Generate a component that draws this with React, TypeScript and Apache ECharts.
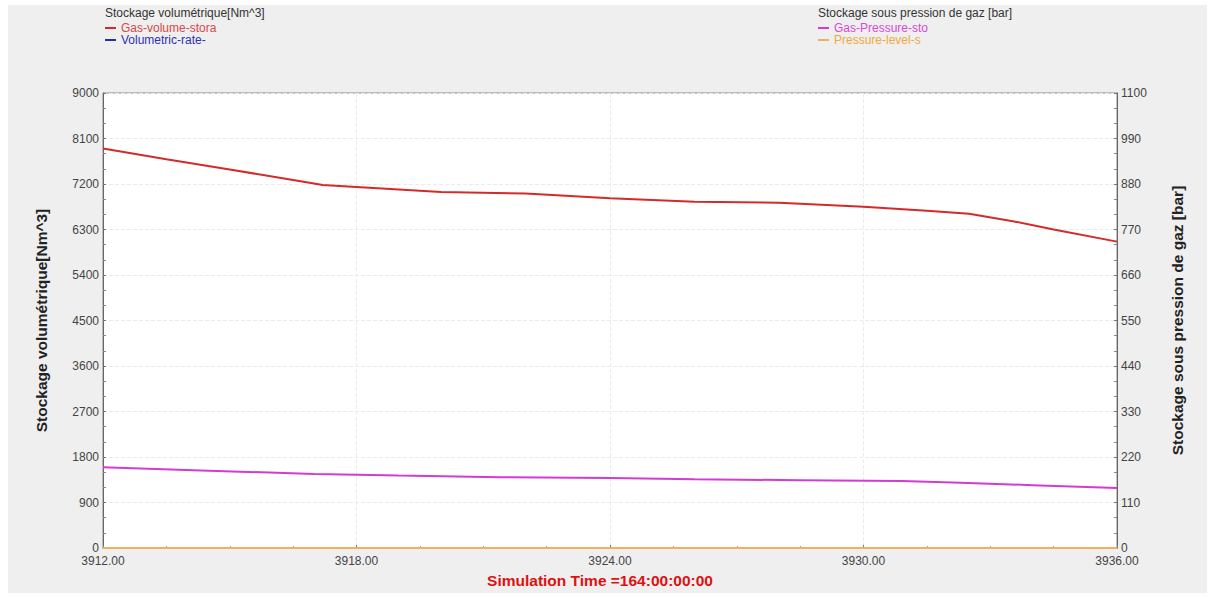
import React, { useEffect, useRef } from "react";
import * as echarts from "echarts";

const xTicksMin = 3912;
const xTicksMax = 3936;
const xInterval = 6;

const volTime = [3912, 3913.5, 3915, 3916.5, 3917.2, 3918, 3920, 3922, 3924, 3926, 3928, 3930, 3931.5, 3932.5, 3933.5, 3934.5, 3936];
const gasVolume = [7900, 7690, 7485, 7280, 7180, 7140, 7040, 7010, 6920, 6850, 6830, 6750, 6670, 6610, 6470, 6300, 6060];

const rateTime = [3912, 3936];
const volumetricRate = [0, 0];

const pressTime = [3912, 3914.5, 3917, 3919, 3921.4, 3924, 3926, 3928.5, 3930.9, 3932.3, 3934, 3936];
const gasPressure = [195, 187, 179, 175, 171, 169, 166, 164, 162, 158, 152, 145];

const levelTime = [3912, 3936];
const pressureLevel = [0, 0];

const leftTitle = "Stockage volumétrique[Nm^3]";
const rightTitle = "Stockage sous pression de gaz [bar]";
const xName = "Simulation Time =164:00:00:00";

const FONT = "Liberation Sans, Arial, sans-serif";

function zip(xs: number[], ys: number[]) {
  return xs.map((x, i) => [x, ys[i]]);
}

export default function App() {
  const ref = useRef<HTMLDivElement>(null);
  useEffect(() => {
    if (!ref.current) return;
    const chart = echarts.init(ref.current, undefined, { renderer: "svg" });
    const labelStyle = { color: "#444", fontSize: 12, fontFamily: FONT };
    const legendText = { fontSize: 12, fontFamily: FONT };
    const titleStyle = { fontSize: 12, fontWeight: "normal", color: "#333", fontFamily: FONT };
    chart.setOption({
      animation: false,
      backgroundColor: "#efefef",
      title: [
        { text: leftTitle, left: 97, top: 2, padding: 0, textStyle: titleStyle },
        { text: rightTitle, left: 810, top: 2, padding: 0, textStyle: titleStyle },
      ],
      legend: [
        {
          left: 97, top: 17, orient: "vertical", padding: 0, itemGap: 0, itemWidth: 11, itemHeight: 2, icon: "rect",
          textStyle: legendText,
          data: [
            { name: "Gas-volume-stora", textStyle: { color: "#d84848" } },
            { name: "Volumetric-rate-", textStyle: { color: "#3030b0" } },
          ],
        },
        {
          left: 810, top: 17, orient: "vertical", padding: 0, itemGap: 0, itemWidth: 11, itemHeight: 2, icon: "rect",
          textStyle: legendText,
          data: [
            { name: "Gas-Pressure-sto", textStyle: { color: "#d84ad8" } },
            { name: "Pressure-level-s", textStyle: { color: "#f0a840" } },
          ],
        },
      ],
      grid: { left: 95, right: 90, top: 88, bottom: 44, show: true, backgroundColor: "#ffffff", borderColor: "#888", borderWidth: 1 },
      xAxis: {
        type: "value", min: xTicksMin, max: xTicksMax, interval: xInterval,
        name: xName, nameLocation: "middle", nameGap: 24,
        nameTextStyle: { color: "#e01010", fontWeight: "bold", fontSize: 15.5, fontFamily: FONT, padding: [0, 20, 0, 0] },
        axisLine: { show: true, lineStyle: { color: "#777" } },
        axisTick: { show: true, inside: true, length: 3, lineStyle: { color: "#777" } },
        minorTick: { show: true, splitNumber: 4, length: 2, lineStyle: { color: "#999" } },
        axisLabel: { ...labelStyle, margin: 7, formatter: (v: number) => v.toFixed(2) },
        splitLine: { show: true, lineStyle: { color: "#ebebeb", type: "dashed" } },
      },
      yAxis: [
        {
          type: "value", min: 0, max: 9000, interval: 900, position: "left",
          name: leftTitle, nameLocation: "middle", nameGap: 54,
          nameTextStyle: { color: "#222", fontWeight: "bold", fontSize: 15.5, fontFamily: FONT },
          axisLine: { show: true, lineStyle: { color: "#666" } },
          axisTick: { show: true, inside: true, length: 3, lineStyle: { color: "#777" } },
          minorTick: { show: true, splitNumber: 3, length: 3, lineStyle: { color: "#888" } },
          axisLabel: { ...labelStyle, margin: 4, formatter: (v: number) => String(v) },
          splitLine: { show: true, lineStyle: { color: "#ebebeb", type: "dashed" } },
        },
        {
          type: "value", min: 0, max: 1100, interval: 110, position: "right",
          name: rightTitle, nameLocation: "middle", nameGap: 52,
          nameTextStyle: { color: "#222", fontWeight: "bold", fontSize: 15.5, fontFamily: FONT },
          axisLine: { show: true, lineStyle: { color: "#666" } },
          axisTick: { show: true, inside: true, length: 3, lineStyle: { color: "#777" } },
          minorTick: { show: true, splitNumber: 3, length: 3, lineStyle: { color: "#888" } },
          axisLabel: { ...labelStyle, margin: 4, formatter: (v: number) => String(v) },
          splitLine: { show: false },
        },
      ],
      series: [
        { name: "Gas-volume-stora", type: "line", yAxisIndex: 0, showSymbol: false, symbol: "none", color: "#d42a2a", lineStyle: { width: 2 }, data: zip(volTime, gasVolume) },
        { name: "Volumetric-rate-", type: "line", yAxisIndex: 0, showSymbol: false, symbol: "none", color: "#2a2aa8", lineStyle: { width: 2 }, data: zip(rateTime, volumetricRate) },
        { name: "Gas-Pressure-sto", type: "line", yAxisIndex: 1, showSymbol: false, symbol: "none", color: "#d43ad4", lineStyle: { width: 2 }, data: zip(pressTime, gasPressure) },
        { name: "Pressure-level-s", type: "line", yAxisIndex: 1, showSymbol: false, symbol: "none", color: "#f0b060", lineStyle: { width: 2 }, data: zip(levelTime, pressureLevel) },
      ],
    });
    return () => chart.dispose();
  }, []);
  return (
    <div style={{ position: "absolute", left: 0, top: 0, width: 1208, height: 597, background: "#ffffff" }}>
      <div ref={ref} style={{ position: "absolute", left: 8, top: 5, width: 1199, height: 588 }} />
    </div>
  );
}
